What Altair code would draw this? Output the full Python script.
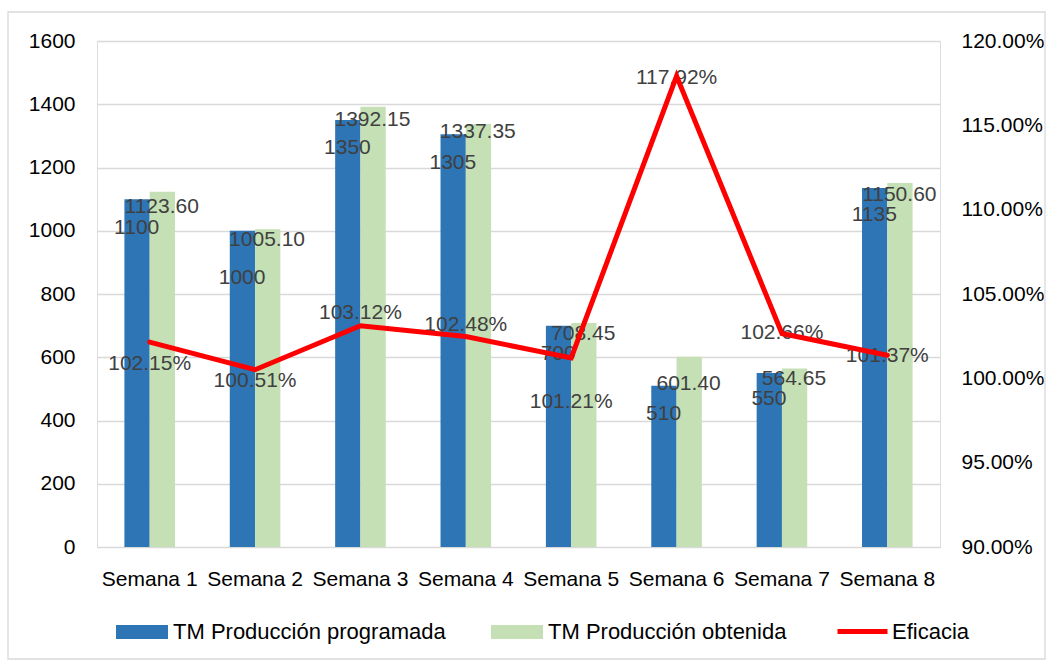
import altair as alt
import pandas as pd

# ---------------- data ----------------
SEMANAS = ["Semana 1", "Semana 2", "Semana 3", "Semana 4",
           "Semana 5", "Semana 6", "Semana 7", "Semana 8"]
PROGRAMADA = [1100, 1000, 1350, 1305, 700, 510, 550, 1135]
OBTENIDA = [1123.60, 1005.10, 1392.15, 1337.35, 708.45, 601.40, 564.65, 1150.60]
EFICACIA = [1.0215, 1.0051, 1.0312, 1.0248, 1.0121, 1.1792, 1.0266, 1.0137]

SERIE_PROG = "TM Producción programada"
SERIE_OBT = "TM Producción obtenida"
SERIE_EF = "Eficacia"

# label placement (pixels, positive = downwards) for the data labels
PROG_LABEL_DY = [29, 47, 28, 29, 28, 28, 26, 27]
OBT_LABEL_DY = [15, 11, 13, 8, 11, 27, 11, 12]
LINE_LABEL_DY = [22, 11, -13, -12, 44, 2, 0, 1]

# ---------------- layout ----------------
W, H = 843, 506
PAD_L, PAD_T = 97, 41
FONT = "Liberation Sans"
FS = 21
Y_MIN, Y_MAX = 0, 1600
Y2_MIN, Y2_MAX = 0.90, 1.20

bars_df = pd.DataFrame({
    "semana": SEMANAS * 2,
    "serie": [SERIE_PROG] * len(SEMANAS) + [SERIE_OBT] * len(SEMANAS),
    "valor": PROGRAMADA + OBTENIDA,
    "dy": PROG_LABEL_DY + OBT_LABEL_DY,
})
line_df = pd.DataFrame({
    "semana": SEMANAS,
    "serie": [SERIE_EF] * len(SEMANAS),
    "eficacia": EFICACIA,
    "dy": LINE_LABEL_DY,
})

x_enc = alt.X(
    "semana:N", sort=SEMANAS, title=None,
    scale=alt.Scale(paddingInner=0.52, paddingOuter=0.26),
    axis=alt.Axis(labelAngle=0, labelFont=FONT, labelFontSize=FS, labelColor="#000000",
                  labelPadding=21, domain=False, ticks=False, grid=False),
)
y_scale = alt.Scale(domain=[Y_MIN, Y_MAX], nice=False, zero=True)

bars = alt.Chart(bars_df).mark_bar().encode(
    x=x_enc,
    xOffset=alt.XOffset("serie:N", sort=[SERIE_PROG, SERIE_OBT],
                        scale=alt.Scale(paddingInner=0, paddingOuter=0)),
    y=alt.Y("valor:Q", scale=y_scale, title=None,
            axis=alt.Axis(orient="left", values=list(range(0, 1601, 200)), format="d",
                          labelFont=FONT, labelFontSize=FS, labelColor="#000000",
                          labelPadding=22, domain=False, ticks=False,
                          grid=True, gridColor="#D9D9D9", gridWidth=1.3)),
    color=alt.Color("serie:N", sort=[SERIE_PROG, SERIE_OBT],
                    scale=alt.Scale(domain=[SERIE_PROG, SERIE_OBT], range=["#2E75B6", "#C5E0B4"]),
                    legend=alt.Legend(title=None, orient="none", direction="horizontal", columns=2,
                                      legendX=116 - PAD_L, legendY=606 - PAD_T,
                                      symbolType="M-1,-0.27H1V0.27H-1Z", symbolSize=2704,
                                      symbolStrokeWidth=0, labelOffset=5, columnPadding=45,
                                      labelFont=FONT, labelFontSize=22, labelColor="#000000",
                                      labelLimit=400, padding=0)),
)

px_to_val = (Y_MAX - Y_MIN) / H
text_prog = alt.Chart(bars_df).transform_filter(
    alt.datum.serie == SERIE_PROG
).transform_calculate(
    ylab=f"datum.valor - datum.dy * {px_to_val}"
).mark_text(font=FONT, fontSize=FS, color="#404040", dx=-13, baseline="middle").encode(
    x=alt.X("semana:N", sort=SEMANAS),
    y=alt.Y("ylab:Q", scale=y_scale),
    text=alt.Text("valor:Q", format="d"),
)
text_obt = alt.Chart(bars_df).transform_filter(
    alt.datum.serie == SERIE_OBT
).transform_calculate(
    ylab=f"datum.valor - datum.dy * {px_to_val}"
).mark_text(font=FONT, fontSize=FS, color="#404040", dx=12, baseline="middle").encode(
    x=alt.X("semana:N", sort=SEMANAS),
    y=alt.Y("ylab:Q", scale=y_scale),
    text=alt.Text("valor:Q", format=".2f"),
)

bar_layer = alt.layer(bars, text_prog, text_obt)

y2_scale = alt.Scale(domain=[Y2_MIN, Y2_MAX], nice=False, zero=False)

line = alt.Chart(line_df).mark_line(strokeWidth=5, strokeCap="round").encode(
    x=alt.X("semana:N", sort=SEMANAS),
    y=alt.Y("eficacia:Q", scale=y2_scale, title=None,
            axis=alt.Axis(orient="right", values=[0.90, 0.95, 1.00, 1.05, 1.10, 1.15, 1.20],
                          format=".2%", labelFont=FONT, labelFontSize=FS, labelColor="#000000",
                          labelPadding=21, domain=False, ticks=False, grid=False)),
    stroke=alt.Stroke("serie:N",
                      scale=alt.Scale(domain=[SERIE_EF], range=["#FF0000"]),
                      legend=alt.Legend(title=None, orient="none",
                                        legendX=835 - PAD_L, legendY=604 - PAD_T,
                                        symbolType="M-1,0H1", symbolSize=2500,
                                        symbolStrokeWidth=5, symbolFillColor="transparent",
                                        labelOffset=2, labelFont=FONT, labelFontSize=22,
                                        labelColor="#000000", padding=0)),
)

px_to_val2 = (Y2_MAX - Y2_MIN) / H
line_text = alt.Chart(line_df).transform_calculate(
    ylab=f"datum.eficacia - datum.dy * {px_to_val2}"
).mark_text(font=FONT, fontSize=FS, color="#404040", baseline="middle").encode(
    x=alt.X("semana:N", sort=SEMANAS),
    y=alt.Y("ylab:Q", scale=y2_scale),
    text=alt.Text("eficacia:Q", format=".2%"),
)

line_layer = alt.layer(line_text, line)

frame = alt.Chart(pd.DataFrame({"k": [0]})).mark_rect(
    fill=None, stroke="#D9D9D9", strokeWidth=1.3
).encode(
    x=alt.value(8 - PAD_L), x2=alt.value(1045 - PAD_L),
    y=alt.value(12 - PAD_T), y2=alt.value(659 - PAD_T),
)

chart = alt.layer(frame, bar_layer, line_layer).resolve_scale(
    y="independent"
).properties(
    width=W, height=H,
    autosize=alt.AutoSizeParams(type="none"),
    padding={"left": PAD_L, "top": PAD_T, "right": 1049 - PAD_L - W, "bottom": 662 - PAD_T - H},
).configure_view(stroke=None).configure(background="white")

chart.save("out.html", embed_options={"renderer": "svg", "actions": False})
